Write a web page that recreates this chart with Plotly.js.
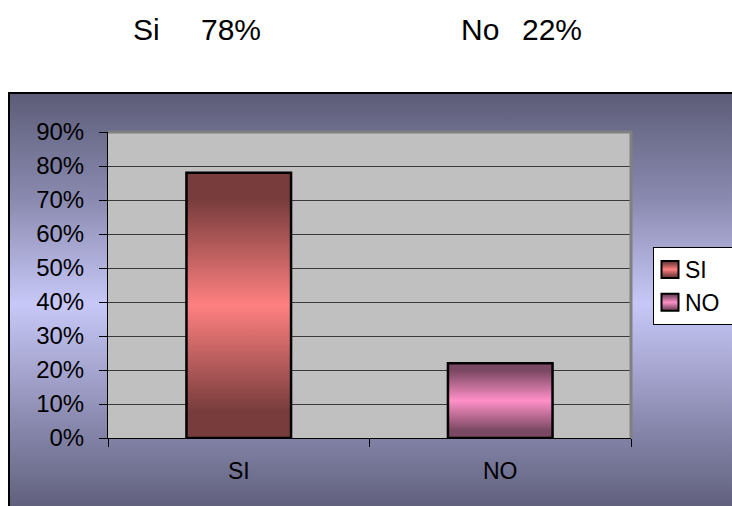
<!DOCTYPE html>
<html>
<head>
<meta charset="utf-8">
<script src="https://cdn.plot.ly/plotly-3.0.1.min.js"></script>
<style>
  html, body { margin:0; padding:0; background:#ffffff; }
  #wrap { position:relative; width:732px; height:506px; overflow:hidden; }
  #bgbox { position:absolute; left:8px; top:92px; width:730px; height:420px;
           border-left:2px solid #000; border-top:2px solid #000;
           background: linear-gradient(to bottom, #5d5d79 0%, #8a8ab0 25%, #c8c8f8 50%, #8a8ab0 78%, #5d5d79 100%); }
  #chart { position:absolute; left:0; top:0; width:732px; height:506px; }
</style>
</head>
<body>
<div id="wrap">
  <div id="bgbox"></div>
  <div id="chart"></div>
</div>
<script>
// Data
const categories = ["SI", "NO"];
const seriesNames = ["SI", "NO"];
const values = [0.78, 0.22];
const headerLabels = ["Si", "78%", "No", "22%"];
const yTickValues = [0, 0.1, 0.2, 0.3, 0.4, 0.5, 0.6, 0.7, 0.8, 0.9];

// Styling (kept separate from data)
const gradStops = [
  { dark: "#783c3c", mid: "#ff8080" },
  { dark: "#7a4862", mid: "#ff90c8" }
];
const baseColors = ["#ff8080", "#ff90c8"];

const traces = seriesNames.map((name, i) => ({
  type: "bar",
  name: name,
  x: [categories[i]],
  y: [values[i]],
  marker: { color: baseColors[i], line: { color: "#000000", width: 2.5 } },
  hoverinfo: "none"
}));

const font = "Liberation Sans, Arial, sans-serif";
const L = 108, R = 101, T = 132, B = 68, W = 732, H = 506;
const pw = W - L - R, ph = H - T - B;
const px = (x) => (x - L) / pw;
const py = (y) => (H - B - y) / ph;

const headerX = [131, 199, 459, 520];
const annotations = headerLabels.map((t, i) => ({
  text: t, xref: "paper", yref: "paper",
  x: px(headerX[i]), y: py(29), xanchor: "left", yanchor: "middle",
  showarrow: false, font: { family: font, size: 30, color: "#000" }
}));

const layout = {
  width: W, height: H,
  margin: { l: L, r: R, t: T, b: B, pad: 0, autoexpand: false },
  paper_bgcolor: "rgba(0,0,0,0)",
  plot_bgcolor: "#c0c0c0",
  barmode: "overlay",
  bargap: 0.6,
  showlegend: true,
  legend: {
    x: px(653), y: py(247), xanchor: "left", yanchor: "top",
    bgcolor: "#ffffff", bordercolor: "#000000", borderwidth: 1,
    font: { family: font, size: 23, color: "#000" },
    itemwidth: 30, tracegroupgap: 0
  },
  xaxis: {
    type: "category",
    showline: true, linecolor: "#000", linewidth: 1,
    ticks: "outside", tickson: "boundaries", ticklen: 8, tickcolor: "#000", tickwidth: 1,
    tickfont: { family: font, size: 23, color: "#000" },
    ticklabelstandoff: 12,
    showgrid: false, zeroline: false, fixedrange: true
  },
  yaxis: {
    range: [0, 0.9],
    tickvals: yTickValues, tickformat: ".0%",
    showline: true, linecolor: "#000", linewidth: 1,
    ticks: "outside", ticklen: 8, tickcolor: "#000", tickwidth: 1,
    tickfont: { family: font, size: 24, color: "#000" },
    ticklabelstandoff: 10,
    showgrid: true, gridcolor: "#3a3a3a", gridwidth: 1,
    zeroline: false, fixedrange: true
  },
  shapes: [{
    type: "path", xref: "paper", yref: "paper",
    path: "M0,1 L1,1 L1,0", line: { color: "#808080", width: 3 }, layer: "above"
  }],
  annotations: annotations
};

Plotly.newPlot("chart", traces, layout, { staticPlot: true, displayModeBar: false }).then(gd => {
  const svgNS = "http://www.w3.org/2000/svg";
  const svg = gd.querySelector(".main-svg");
  let defs = svg.querySelector("defs");
  if (!defs) { defs = document.createElementNS(svgNS, "defs"); svg.insertBefore(defs, svg.firstChild); }
  gradStops.forEach((g, i) => {
    const lg = document.createElementNS(svgNS, "linearGradient");
    lg.setAttribute("id", "barGrad" + i);
    lg.setAttribute("x1", "0"); lg.setAttribute("y1", "0");
    lg.setAttribute("x2", "0"); lg.setAttribute("y2", "1");
    [[0, g.dark], [0.1, g.dark], [0.5, g.mid], [0.9, g.dark], [1, g.dark]].forEach(([o, c]) => {
      const s = document.createElementNS(svgNS, "stop");
      s.setAttribute("offset", o); s.setAttribute("stop-color", c);
      lg.appendChild(s);
    });
    defs.appendChild(lg);
  });
  gd.querySelectorAll(".barlayer .trace").forEach((tr, i) => {
    tr.querySelectorAll("path").forEach(p => { p.style.fill = "url(#barGrad" + i + ")"; });
  });
  gd.querySelectorAll(".legend .traces").forEach((tr, i) => {
    tr.querySelectorAll(".legendpoints path").forEach(p => {
      p.setAttribute("d", "M8.5,8.5H-8.5V-8.5H8.5Z");
      p.setAttribute("transform", "translate(16,0)");
      p.style.fill = "url(#barGrad" + i + ")";
      p.style.stroke = "#000"; p.style.strokeWidth = "2px";
    });
    tr.querySelectorAll("text.legendtext").forEach(t => {
      t.setAttribute("x", String(parseFloat(t.getAttribute("x") || "40") - 9));
    });
  });
});
</script>
</body>
</html>
